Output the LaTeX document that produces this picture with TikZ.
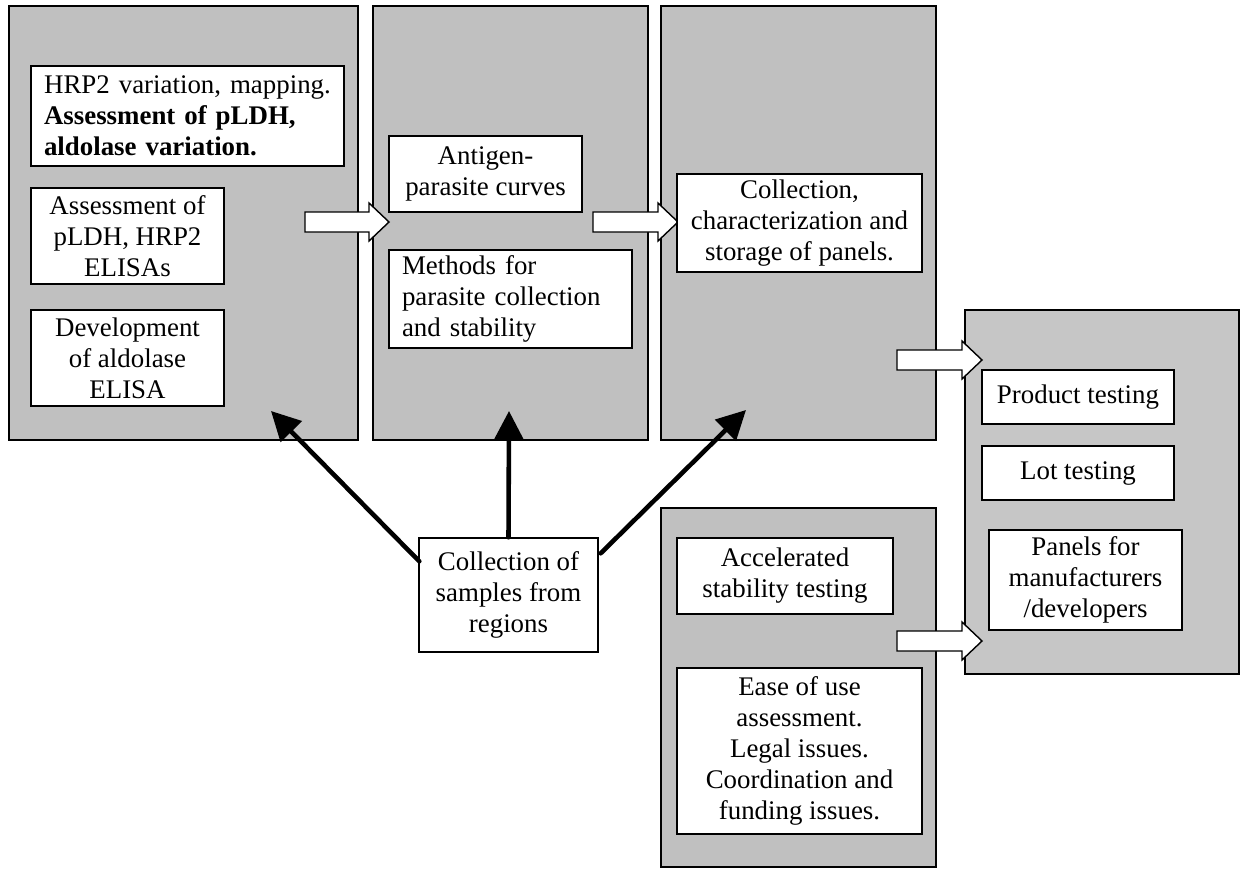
\documentclass[tikz,border=0pt]{standalone}
\usepackage{fontspec}
\setmainfont{Liberation Serif}
\usetikzlibrary{arrows.meta,fit,calc}
\definecolor{panelgray}{RGB}{192,192,192}
\definecolor{panelgraylight}{RGB}{198,198,198}
\newcommand\diagfont{\fontsize{15.3}{17.7}\selectfont}
\newcommand\blockarrow[2]{\draw[blockarr] ($(#1)+(0,-10)$) -- ($(#2)+(-20,-10)$) -- ($(#2)+(-20,-19)$) -- (#2) -- ($(#2)+(-20,19)$) -- ($(#2)+(-20,10)$) -- ($(#1)+(0,10)$) -- cycle;}
\newcommand\tbox[7][]{%
  \pgfmathsetmacro\bw{(#5-#3)*0.02}\pgfmathsetmacro\bh{(#6-#4)*0.02}%
  \node[txtbox,minimum width=\bw cm,minimum height=\bh cm,#1] (#2) at ({(#3+#5)/2},{(#4+#6)/2}) {#7};}
\begin{document}
\begin{tikzpicture}[x=0.02cm,y=-0.02cm,
  panel/.style={draw=black, line width=0.95pt, fill=panelgray, inner sep=0pt},
  txtbox/.style={draw=black, line width=0.8pt, fill=white, inner sep=0pt, align=center, font=\diagfont},
  bigarrow/.style={line width=2.6pt, line cap=round, -{Triangle[length=16.5pt,width=16.5pt]}},
  blockarr/.style={draw=black, line width=0.8pt, fill=white, line join=miter}]
\useasboundingbox (0,0) rectangle (1241,872);
% panels
\node[panel, fit={(9,6) (358,440)}] (p1) {};
\node[panel, fit={(373,6) (648,440)}] (p2) {};
\node[panel, fit={(661,6) (936,440)}] (p3) {};
\node[panel, fill=panelgraylight, fit={(965,310) (1239,674)}] (p4) {};
\node[panel, fit={(661,508) (936,867)}] (p5) {};
% block arrows
\coordinate (s12) at (305,222); \coordinate (e12) at (389,222);
\coordinate (s23) at (593,222); \coordinate (e23) at (678,222);
\coordinate (s34) at (897,360); \coordinate (e34) at (982,360);
\coordinate (s54) at (897,641); \coordinate (e54) at (982,641);
\blockarrow{s12}{e12}
\blockarrow{s23}{e23}
\blockarrow{s34}{e34}
\blockarrow{s54}{e54}
% text boxes
\tbox[text width=5.74cm, align=left]{a1}{31}{66}{344}{166}
  {\makebox[5.74cm][c]{HRP2 variation, mapping.}\\ \textbf{Assessment of pLDH,}\\ \textbf{aldolase variation.}}
\tbox{a2}{31}{188}{224}{284}{Assessment of\\pLDH, HRP2\\ELISAs}
\tbox{a3}{31}{310}{224}{406}{Development\\of aldolase\\ELISA}
\tbox{b1}{389}{136}{582}{212}{Antigen-\\parasite curves}
\tbox[text width=4.34cm, align=left]{b2}{389}{250}{632}{348}{Methods for\\parasite collection\\and stability}
\tbox{c1}{677}{174}{922}{272}{Collection,\\characterization and\\storage of panels.}
\tbox{d1}{982}{370}{1174}{424}{Product testing}
\tbox{d2}{982}{446}{1174}{500}{Lot testing}
\tbox{d3}{989}{530}{1182}{630}{Panels for\\manufacturers\\/developers}
\tbox{e1}{677}{538}{893}{614}{Accelerated\\stability testing}
\tbox{e2}{677}{668}{922}{834}{Ease of use\\assessment.\\Legal issues.\\Coordination and\\funding issues.}
\tbox{cs}{419}{538}{598}{652}{Collection of\\samples from\\regions}
% thick arrows
\coordinate (t1) at (271,411);
\coordinate (t2) at (509,411);
\coordinate (t3) at (746,410);
\draw[bigarrow] ($(cs.north west)+(1,24)$) -- (t1);
\draw[bigarrow] (cs.north) -- (t2);
\draw[bigarrow] ($(cs.north east)+(2,16)$) -- (t3);
\end{tikzpicture}
\end{document}
